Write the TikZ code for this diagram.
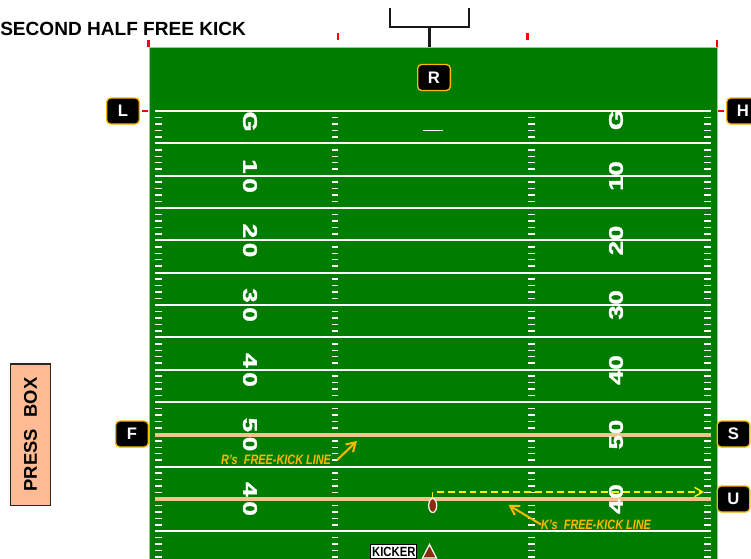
\documentclass[tikz,border=0pt]{standalone}
\usepackage{fontspec}
\setmainfont{Liberation Sans}
\newfontfamily\heavyfont[FakeBold=1.6]{Liberation Sans Bold}
\usetikzlibrary{arrows.meta,shapes.geometric}
\definecolor{fieldgreen}{RGB}{0,124,0}
\definecolor{tanline}{RGB}{247,192,140}
\definecolor{gold}{RGB}{255,184,0}
\definecolor{boxfill}{RGB}{255,187,147}
\definecolor{ballbrown}{RGB}{140,45,15}
\newcommand{\pxs}[1]{\fontsize{#1pt}{#1pt}\selectfont}
\tikzset{
  x=0.75pt,y=-0.75pt,
  badge/.style={draw=gold,fill=black,text=white,line width=1pt,rounded corners=3pt,minimum width=24.5pt,minimum height=19.5pt,inner sep=0pt,font=\bfseries\pxs{12.5}},
  yardline/.style={draw=white,line width=1.3pt},
  tanmark/.style={draw=tanline,line width=3pt},
  hashmark/.style={draw=white,line width=1.1pt},
  redtick/.style={draw=red,line width=1.7pt},
  post/.style={draw=black!90,line width=1.7pt},
  numl/.style={text=white,font=\heavyfont\pxs{19.5},rotate=-90,inner sep=0pt,yscale=0.76},
  numr/.style={text=white,font=\heavyfont\pxs{19.5},rotate=90,inner sep=0pt,yscale=0.76},
  kicklabel/.style={text=gold,font=\bfseries\itshape\pxs{10.2},inner sep=0pt,xscale=0.8,anchor=center},
  goldarrow/.style={draw=gold,line width=1.5pt,-{Straight Barb[length=6.5pt,width=8pt]}},
  brownmark/.style={fill=ballbrown,draw=white,line width=0.9pt},
}
\begin{document}
\begin{tikzpicture}
\useasboundingbox (0,0) rectangle (751,558);
% field
\path[fill=fieldgreen,draw=white!60!fieldgreen,line width=0.6pt] (149,47.5) rectangle (717,570);
\begin{scope}
\clip (0,0) rectangle (751,558);
\foreach \k in {0,...,13}{
  \pgfmathsetmacro{\yy}{111+32.33*\k}
  \draw[yardline] (155,\yy) -- (711,\yy);
}
\foreach \xa in {155,331.5,527.7,704.3}{
  \foreach \k in {0,...,13}{
    \foreach \t in {1,2,3,4}{
      \pgfmathsetmacro{\yy}{111+32.33*\k+6.466*\t}
      \draw[hashmark] (\xa,\yy) -- ++(6.8,0);
    }
  }
}
\end{scope}
\draw[tanmark] (155,434.5) -- (711,434.5);
\draw[tanmark] (155,498.5) -- (711,498.5);
\draw[draw=white,line width=1.3pt] (423,130.5) -- (442.7,130.5);
% numbers
\node[numl] (lg) at (250,121.5) {G};
\node[numl] (l10) at (250,176) {1\hspace{3.5pt}0};
\node[numl] (l20) at (250,240.5) {2\hspace{3.5pt}0};
\node[numl] (l30) at (250,305) {3\hspace{3.5pt}0};
\node[numl] (l40) at (250,370) {4\hspace{3.5pt}0};
\node[numl] (l50) at (250,434.5) {5\hspace{3.5pt}0};
\node[numl] (l40b) at (250,499) {4\hspace{3.5pt}0};
\node[numr] (rg) at (616,120) {G};
\node[numr] (r10) at (616,176) {1\hspace{0.5pt}0};
\node[numr] (r20) at (616,240.5) {2\hspace{0.5pt}0};
\node[numr] (r30) at (616,305) {3\hspace{0.5pt}0};
\node[numr] (r40) at (616,370) {4\hspace{0.5pt}0};
\node[numr] (r50) at (616,434.5) {5\hspace{0.5pt}0};
\node[numr] (r40b) at (616,499) {4\hspace{0.5pt}0};
% goal post
\coordinate (gpl) at (390,8);
\coordinate (gpr) at (469,8);
\coordinate (gcl) at (390,27);
\coordinate (gcr) at (469,27);
\coordinate (gcm) at (429.5,27);
\coordinate (gbase) at (429.5,47);
\draw[post] (gpl) -- (gcl) -- (gcr) -- (gpr);
\draw[post] (gcm) -- (gbase);
% red ticks
\draw[redtick] (148.5,40) -- (148.5,47);
\draw[redtick] (337.7,33) -- (337.7,40);
\draw[redtick] (527.5,33) -- (527.5,40);
\draw[redtick] (717,40) -- (717,47);
\draw[redtick] (142,111) -- (148,111);
\draw[redtick] (717.5,111) -- (724,111);
% officials
\node[badge] (L) at (123,111) {L};
\node[badge] (R) at (434,77.5) {R};
\node[badge] (H) at (743,111) {H};
\node[badge] (F) at (132,434) {F};
\node[badge] (S) at (733.5,434) {S};
\node[badge] (U) at (733.5,499) {U};
% title
\node[anchor=west,inner sep=0pt,font=\bfseries\pxs{14.3}] (title) at (0,28.5) {SECOND HALF FREE KICK};
% press box
\node[draw=black!85,fill=boxfill,line width=1pt,minimum width=106pt,minimum height=30pt,inner sep=0pt,rotate=90,font=\bfseries\pxs{13.8}] (press) at (30.5,434.5) {PRESS\hspace{5pt} BOX};
% free kick labels
\node[kicklabel] (rlabel) at (276,459.5) {R's\hspace{3pt} FREE-KICK LINE};
\coordinate (rtip) at (357,441);
\coordinate (rtail) at (337,460);
\draw[goldarrow] (rtail) -- (rtip);
\node[kicklabel] (klabel) at (596,524.5) {K's\hspace{3pt} FREE-KICK LINE};
\coordinate (ktip) at (508.5,505);
\coordinate (ktail) at (541,524.5);
\draw[goldarrow] (ktail) -- (ktip);
% ball and dashed run
\coordinate (runstart) at (432.7,492);
\coordinate (runend) at (704,492);
\coordinate (ballline) at (432.7,498.5);
\draw[draw=yellow,line width=1.1pt] (ballline) -- (runstart);
\draw[draw=yellow,line width=1.1pt,dash pattern=on 5.2pt off 3pt,dash phase=-3pt,-{Straight Barb[length=6pt,width=7pt]}] (runstart) -- (runend);
\node[brownmark,ellipse,minimum width=6pt,minimum height=10.5pt,inner sep=0pt] (ball) at (432.7,505.5) {};
% kicker
\node[draw=black,fill=white,line width=0.7pt,inner sep=0pt,minimum width=34.5pt,minimum height=10.5pt,font=\bfseries\pxs{10}] (kicker) at (393.8,551.5) {\scalebox{0.85}[1]{KICKER}};
\path[brownmark] (429.5,544.5) -- (422.5,558) -- (436.5,558) -- cycle;
\end{tikzpicture}
\end{document}
